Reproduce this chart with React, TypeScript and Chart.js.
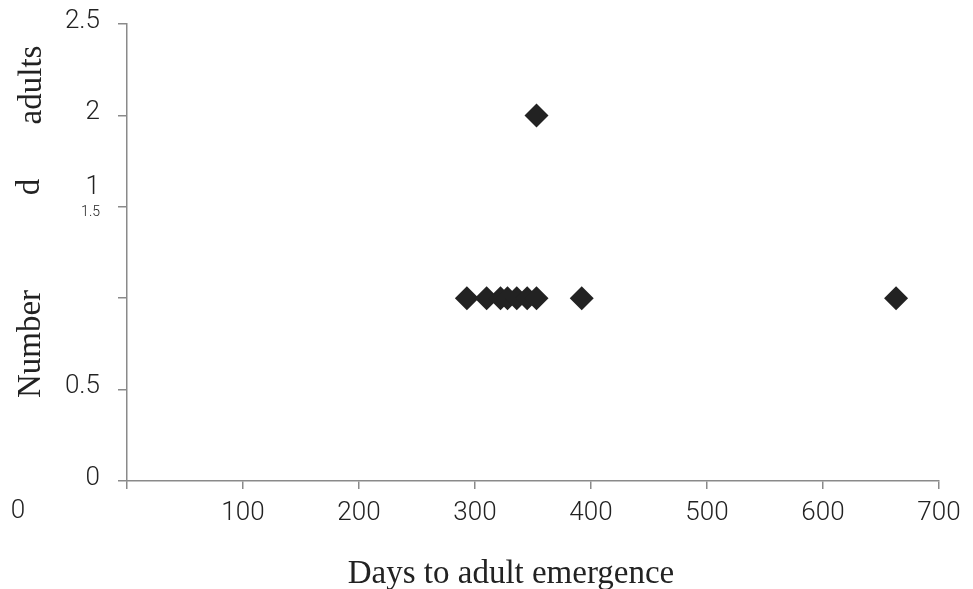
import React, { useEffect, useRef } from "react";
import { Chart, registerables } from "chart.js";

Chart.register(...registerables);

// Data
const daysToEmergence = [293, 310, 322, 328, 336, 345, 353, 392, 663, 353];
const adultCounts = [1, 1, 1, 1, 1, 1, 1, 1, 1, 2];

const xTitle = "Days to adult emergence";
const yTitlePieces = ["Number", "d", "adults"];
const strayXZero = "0";
const strayYOne = "1";

const TICK_FONT = "Roboto";
const SERIF = "'Liberation Serif', 'Times New Roman', serif";
const TEXT = "#222222";
const AXIS = "#8a8a8a";

const overlayPlugin = {
  id: "overlayText",
  afterDraw(chart: any) {
    const ctx = chart.ctx;
    const xs = chart.scales.x;
    const ys = chart.scales.y;
    ctx.save();
    ctx.fillStyle = TEXT;
    // stray x "0" label drawn far left
    ctx.font = `300 26px ${TICK_FONT}`;
    ctx.textAlign = "center";
    ctx.textBaseline = "top";
    ctx.fillText(strayXZero, 18, xs.top + 17);
    // stray big "1" above the small 1.5 label
    ctx.textAlign = "right";
    ctx.textBaseline = "middle";
    ctx.fillText(strayYOne, 100, ys.getPixelForValue(1.5) - 19);
    // x-axis title
    ctx.font = `33px ${SERIF}`;
    ctx.textAlign = "center";
    ctx.textBaseline = "alphabetic";
    ctx.fillText(xTitle, 511, 583);
    // fragmented y-axis title
    const pieces: [string, number, number][] = [
      [yTitlePieces[0], 40, 344],
      [yTitlePieces[1], 39, 187],
      [yTitlePieces[2], 41, 85],
    ];
    for (const [t, bx, cy] of pieces) {
      ctx.save();
      ctx.translate(bx, cy);
      ctx.rotate(-Math.PI / 2);
      ctx.fillText(t, 0, 0);
      ctx.restore();
    }
    ctx.restore();
  },
};

export default function App() {
  const ref = useRef<HTMLCanvasElement>(null);
  useEffect(() => {
    document.body.style.margin = "0";
    document.body.style.overflow = "hidden";
    if (!ref.current) return;
    const chart = new Chart(ref.current, {
      type: "scatter",
      data: {
        datasets: [
          {
            data: daysToEmergence.map((d, i) => ({ x: d, y: adultCounts[i] })),
            pointStyle: "rectRot",
            pointRadius: 12,
            pointHoverRadius: 12,
            backgroundColor: TEXT,
            borderColor: TEXT,
            borderWidth: 0,
          },
        ],
      },
      options: {
        responsive: false,
        animation: false,
        events: [],
        layout: { padding: { top: 24, right: 34, left: 0, bottom: 0 } },
        plugins: { legend: { display: false }, tooltip: { enabled: false } },
        scales: {
          x: {
            type: "linear",
            min: 0,
            max: 700,
            afterFit: (s: any) => {
              s.height = 108;
              s.paddingLeft = 0;
              s.paddingRight = 0;
            },
            border: { display: true, color: AXIS, width: 1.5 },
            grid: { drawOnChartArea: false, drawTicks: true, tickLength: 8, color: AXIS, lineWidth: 1.5 },
            ticks: {
              stepSize: 100,
              padding: 9,
              color: TEXT,
              font: { family: TICK_FONT, size: 26, weight: "300" },
              maxRotation: 0,
              callback: (v: any) => (v === 0 ? "" : String(v)),
            },
            title: { display: false },
          },
          y: {
            type: "linear",
            min: 0,
            max: 2.5,
            afterFit: (s: any) => {
              s.width = 127;
              s.paddingTop = 0;
              s.paddingBottom = 0;
            },
            border: { display: true, color: AXIS, width: 1.5 },
            grid: { drawOnChartArea: false, drawTicks: true, tickLength: 9, color: AXIS, lineWidth: 1.5 },
            ticks: {
              stepSize: 0.5,
              padding: 18,
              labelOffset: -3,
              color: TEXT,
              font: (c: any) =>
                c.tick && c.tick.value === 1.5
                  ? { family: TICK_FONT, size: 14, weight: "300" }
                  : { family: TICK_FONT, size: 26, weight: "300" },
              callback: (v: any) => {
                if (v === 1) return "";
                if (v === 1.5) return ["", "1.5"];
                return String(v);
              },
            },
          },
        },
      },
      plugins: [overlayPlugin],
    });
    return () => chart.destroy();
  }, []);
  return (
    <div style={{ width: 973, height: 589, background: "#fff" }}>
      <canvas ref={ref} width={973} height={589} />
    </div>
  );
}
